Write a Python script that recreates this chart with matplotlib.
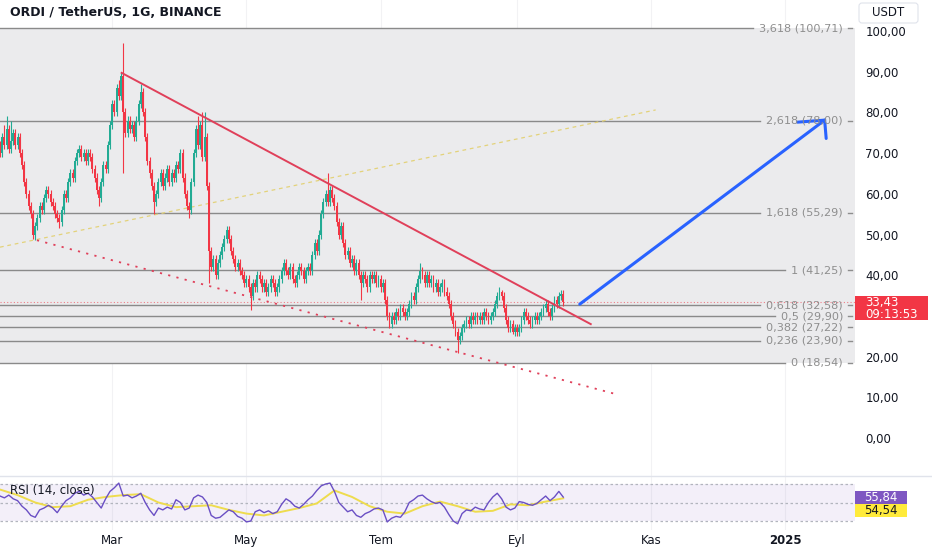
import numpy as np
import matplotlib
matplotlib.use("Agg")
import matplotlib.pyplot as plt
from matplotlib.patches import Rectangle, FancyBboxPatch
from matplotlib.lines import Line2D
from matplotlib.transforms import IdentityTransform

# ---- data -------------------------------------------------------------
start = np.datetime64("2024-01-10")

closes = [
    70, 74, 72, 76, 71, 73, 75, 72, 74,
    70, 67, 63, 60, 57, 55, 50, 52,
    54, 57, 56, 59, 61, 60, 58, 57, 55, 54, 53,
    56, 60, 59, 63, 65, 64, 68, 70,
    71, 69, 70, 68, 70, 69, 66, 64, 61, 59,
    63, 67, 66, 72, 77, 82,
    80, 86, 84, 89, 80,
    75, 78, 76, 77, 74, 78, 82, 85,
    80, 74, 68, 65, 62, 58, 60,
    63, 65, 62, 64, 66, 63, 65, 64, 67, 66, 70,
    64, 60, 57, 56,
    63, 70, 76,
    72, 77, 69, 74,
    62, 46,
    42, 44, 40, 43, 45, 47,
    49, 51, 49,
    46, 44, 42, 43, 41, 40, 38, 39, 37,
    35,
    38, 37, 40, 39, 37, 38, 36, 37, 39, 38, 36, 37, 39,
    41, 43, 41, 40, 42, 39, 38, 40, 42, 41, 39, 41, 42, 41,
    45, 48, 46, 50, 55, 58,
    60, 58, 61, 59,
    57, 53, 50, 52, 48,
    45, 46, 43, 44, 41, 43, 40, 38, 40,
    39, 37, 40, 39, 40, 38, 39, 37, 38,
    34, 30, 28,
    30, 29, 31, 30, 32, 31, 30, 31,
    33, 35, 34, 37, 39, 41, 40, 38, 40,
    38, 39, 37, 38, 36, 37, 38, 36, 35,
    33, 30, 28, 26, 24, 25,
    27, 28, 29, 28, 30, 29,
    30, 29, 30, 29, 31, 30, 29, 30, 31,
    33, 35, 36, 35,
    32, 29, 27, 28,
    26, 27, 26, 27,
    29, 31, 30,
    29, 28, 29, 30, 29, 30,
    31, 32, 33, 31, 30, 32,
    34, 33, 35, 35.5, 33.43,
]
first_open = 72
# days with long wicks
spike_high = {2: 77, 3: 79, 5: 78, 54: 88, 56: 97, 64: 87, 90: 79, 92: 80, 93: 80,
              149: 65, 191: 43, 228: 36.5, 255: 36.4}
spike_low = {16: 48.6, 27: 51.5, 45: 57, 56: 65, 70: 55, 86: 54, 95: 38,
             114: 31.5, 164: 34, 208: 21, 233: 25.5}

fib_ratios = ["3,618", "2,618", "1,618", "1", "0,618", "0,5", "0,382", "0,236", "0"]
fib_prices = [100.71, 78.00, 55.29, 41.25, 32.58, 29.90, 27.22, 23.90, 18.54]

# RSI every 2 days, RSI-MA every 8 days
rsi_vals = [
    57, 55, 58, 54, 52, 46, 42, 36, 34, 42,
    44, 47, 44, 39, 46, 52, 55, 60, 62, 58,
    60, 56, 50, 44, 54, 62, 66, 71, 57, 58,
    55, 57, 60, 50, 42, 36, 44, 42, 45, 43,
    53, 50, 42, 44, 55, 58, 56, 50, 36, 33,
    34, 38, 42, 40, 35, 33, 29, 30, 40, 42,
    39, 41, 38, 40, 48, 54, 51, 46, 44, 48,
    53, 57, 63, 68, 70, 71, 62, 50, 45, 40,
    42, 36, 34, 38, 40, 43, 44, 42, 29, 33,
    35, 34, 40, 50, 53, 57, 58, 54, 51, 49,
    50, 45, 37, 30, 27, 38, 42, 41, 45, 43,
    42, 50, 56, 60, 54, 45, 42, 44, 51, 50,
    48, 47, 49, 53, 57, 52, 56, 62, 55.84,
]
rsi_ma = [64, 58, 50, 45, 46, 53, 56, 58, 59, 50, 45, 46, 47, 42, 38, 36, 40,
          44, 49, 63, 56, 46, 40, 38, 46, 51, 46, 40, 41, 48, 47, 51, 54.54]

month_labels = ["Mar", "May", "Tem", "Eyl", "Kas", "2025"]
month_dates = ["2024-03-01", "2024-05-01", "2024-07-01", "2024-09-01",
               "2024-11-01", "2025-01-01"]
price_ticks = [0, 10, 20, 40, 50, 60, 70, 80, 90, 100]   # 30 is hidden by the price tag
last_price = 33.43
countdown = "09:13:53"

# drawings (day offset, price)
down_trend = [(55.3, 89.7), (268.5, 28.0)]
support = [(16.8, 48.6), (280.0, 10.8)]
yellow_line = [(0.0, 46.9), (298.0, 80.6)]
arrow_line = [(263.5, 32.9), (374.8, 78.1)]
arrow_head = [(362.5, 77.6), (374.8, 78.1), (375.5, 73.6)]

# ---- helpers ---------------------------------------------------------
W, H = 932, 550
UP, DOWN = "#22AB94", "#F23645"


def fmt(v):
    return f"{v:.2f}".replace(".", ",")


closes = np.array(closes, dtype=float)
days = np.arange(len(closes))
opens = np.concatenate([[first_open], closes[:-1]])
highs = np.maximum(opens, closes) + 1.0
lows = np.minimum(opens, closes) - 1.0
for d, v in spike_high.items():
    highs[d] = v
for d, v in spike_low.items():
    lows[d] = v

month_days = [(np.datetime64(m) - start).astype(int) for m in month_dates]

fig = plt.figure(figsize=(W / 100, H / 100), dpi=100)
fig.patch.set_facecolor("white")
ax = fig.add_axes([0, (H - 476) / H, 855 / W, 476 / H])
rax = fig.add_axes([0, (H - 530) / H, 855 / W, 54 / H], sharex=ax)

ax.set_xlim(0, 388.6)
ax.set_ylim(-9.3, 107.6)
rax.set_ylim(20.27, 78.65)

for a in (ax, rax):
    a.set_facecolor("white")
    for s in a.spines.values():
        s.set_visible(False)
    for md in month_days:
        a.axvline(md, color="#F2F2F4", lw=0.8, zorder=0)

# fib band
ax.axhspan(fib_prices[-1], fib_prices[0], color="#EBEBED", zorder=0.5, lw=0)

# candles
colors = np.where(closes >= opens, UP, DOWN)
ax.vlines(days, lows, highs, colors=colors, lw=0.8, zorder=3)
body_lo = np.minimum(opens, closes)
body_h = np.maximum(np.abs(closes - opens), 0.3)
ax.bar(days, body_h, bottom=body_lo, width=0.85, color=colors, lw=0, zorder=4)

# current price line
ax.axhline(last_price, color="#F23645", lw=0.8, ls=(0, (1, 2)), alpha=0.6, zorder=2)

# drawings
ax.plot(*zip(*yellow_line), color="#E3D27A", lw=0.9, ls=(0, (3, 3)), zorder=2)
ax.plot(*zip(*down_trend), color="#E0405A", lw=1.4, zorder=5)
ax.plot(*zip(*support), color="#E0405A", lw=1.3, ls=(0, (1.2, 3.5)), zorder=5)
ax.plot(*zip(*arrow_line), color="#2962FF", lw=2.2, solid_capstyle="round", zorder=6)
ax.plot(*zip(*arrow_head), color="#2962FF", lw=2.2, solid_capstyle="round",
        solid_joinstyle="miter", zorder=6)

# price axis
ax.yaxis.tick_right()
ax.set_yticks(price_ticks)
ax.set_yticklabels([fmt(v) for v in price_ticks])
ax.tick_params(axis="y", length=0, pad=7.5, labelsize=8.5, labelcolor="#131722")
ax.tick_params(axis="x", length=0, labelbottom=False)

# fib labels and lines
ytr = ax.get_yaxis_transform()
fib_texts = []
for r, p in zip(fib_ratios, fib_prices):
    t = ax.text(843 / 855, p, f"{r} ({fmt(p)})", transform=ytr, ha="right",
                va="center", fontsize=8.1, color="#8E8E8E", zorder=7)
    fib_texts.append(t)
    ax.axhline(p, xmin=848 / 855, xmax=852 / 855, color="#8E8E8E", lw=1, zorder=7)
fig.canvas.draw()
for t, p in zip(fib_texts, fib_prices):
    bb = t.get_window_extent()
    ax.axhline(p, xmin=0, xmax=(bb.x0 - 6) / 855, color="#8A8A8A", lw=1, zorder=1)

# title
fig.text(10 / W, 1 - 13 / H, "ORDI / TetherUS, 1G, BINANCE", fontsize=9,
         fontweight="bold", color="#131722", va="center", ha="left")

# USDT box
fig.add_artist(FancyBboxPatch((859, H - 23), 59, 20, boxstyle="round,pad=0,rounding_size=3",
                              transform=IdentityTransform(), fc="white", ec="#E0E3EB", lw=0.8))
fig.text(888.5 / W, 1 - 13 / H, "USDT", fontsize=8.5, color="#131722", ha="center", va="center")

# last price box
py = ax.transData.transform((0, last_price))[1]
fig.add_artist(Rectangle((855, py - 18), 73, 24, transform=IdentityTransform(),
                         fc="#F23645", ec="none"))
fig.text(865 / W, (py - 0.5) / H, fmt(last_price), fontsize=8.5, color="white", va="center")
fig.text(865 / W, (py - 12.5) / H, countdown, fontsize=8.5, color="white", va="center")

# separator between panes
fig.add_artist(Line2D([0, 1], [(H - 476) / H] * 2, color="#E0E3EB", lw=1))

# RSI pane
rsi_days = np.arange(0, len(closes), 2)
ma_days = np.arange(0, len(closes), 8)
rax.axhspan(30, 70, color="#7E57C2", alpha=0.09, lw=0, zorder=0.5)
for lv in (70, 50, 30):
    rax.axhline(lv, color="#B2B5BE", lw=0.9, ls=(0, (2, 2)), zorder=1)
rax.plot(ma_days, rsi_ma, color="#EEDC4E", lw=1.4, zorder=2)
rax.plot(rsi_days, rsi_vals, color="#6A4FC4", lw=1.0, zorder=3)
rax.text(10 / 855, 63, "RSI (14, close)", fontsize=8.5, color="#131722",
         transform=rax.get_yaxis_transform(), va="center", zorder=4)

ry = rax.transData.transform((0, rsi_vals[-1]))[1]
fig.add_artist(Rectangle((855, ry - 6.5), 52, 13, transform=IdentityTransform(),
                         fc="#7E57C2", ec="none"))
fig.text(881 / W, ry / H, fmt(rsi_vals[-1]), fontsize=8.5, color="white",
         ha="center", va="center")
fig.add_artist(Rectangle((855, ry - 19.5), 52, 13, transform=IdentityTransform(),
                         fc="#FFEB3B", ec="none"))
fig.text(881 / W, (ry - 13) / H, fmt(rsi_ma[-1]), fontsize=8.5, color="#131722",
         ha="center", va="center")

rax.set_yticks([])
rax.set_xticks(month_days)
rax.set_xticklabels(month_labels)
rax.tick_params(axis="x", length=0, pad=3, labelsize=8.5, labelcolor="#131722")
rax.get_xticklabels()[-1].set_fontweight("bold")

fig.savefig("out.png", dpi=100, facecolor="white")
